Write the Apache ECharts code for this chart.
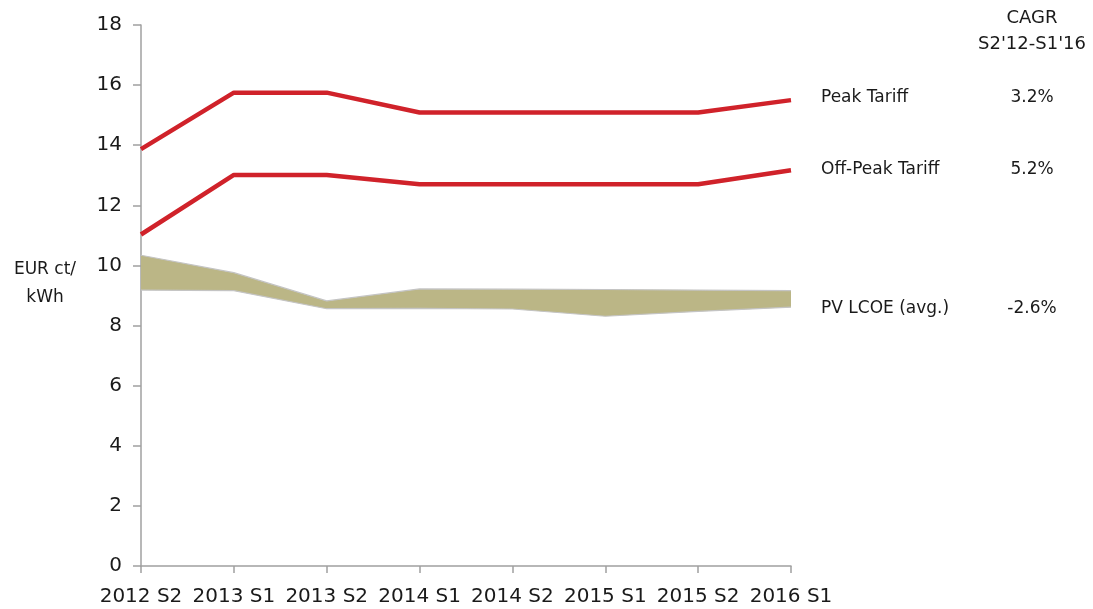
<!DOCTYPE html>
<html>
<head>
<meta charset="utf-8">
<style>
  html, body { margin: 0; padding: 0; background: #fff; }
  #chart { width: 1093px; height: 609px; }
</style>
<script src="https://cdn.jsdelivr.net/npm/echarts@6/dist/echarts.min.js"></script>
</head>
<body>
<div id="chart"></div>
<script>
// Half-year periods
const periods = ['2012 S2', '2013 S1', '2013 S2', '2014 S1', '2014 S2', '2015 S1', '2015 S2', '2016 S1'];

// Grid tariffs, EUR ct/kWh
const peakTariff    = [13.87, 15.75, 15.75, 15.09, 15.09, 15.09, 15.09, 15.5];
const offPeakTariff = [11.03, 13.01, 13.01, 12.7, 12.7, 12.7, 12.7, 13.17];

// PV levelised cost of electricity range, EUR ct/kWh
const lcoeLow  = [9.18, 9.16, 8.56, 8.57, 8.55, 8.31, 8.47, 8.61];
const lcoeHigh = [10.34, 9.76, 8.82, 9.22, 9.21, 9.2, 9.18, 9.16];

const yTicks = { min: 0, max: 18, interval: 2 };

// Right-hand annotations: series name and growth rate
const seriesNames = ['Peak Tariff', 'Off-Peak Tariff', 'PV LCOE (avg.)'];
const cagrValues  = ['3.2%', '5.2%', '-2.6%'];
const cagrHeader  = ['CAGR', "S2'12-S1'16"];

const lcoeSpan = lcoeHigh.map((v, i) => +(v - lcoeLow[i]).toFixed(3));

const FONT = '"DejaVu Sans", sans-serif';
const TXT = '#1a1a1a';
const AXIS = '#a0a0a0';
const RED = '#d0222a';

const chart = echarts.init(document.getElementById('chart'));

const labelRows = [98, 170, 309];
const graphics = [];
seriesNames.forEach((n, i) => {
  graphics.push({
    type: 'text', x: 821, y: labelRows[i],
    style: { text: n, font: '17px ' + FONT, fill: TXT, align: 'left', verticalAlign: 'middle' }
  });
  graphics.push({
    type: 'text', x: 1032, y: labelRows[i],
    style: { text: cagrValues[i], font: '17px ' + FONT, fill: TXT, align: 'center', verticalAlign: 'middle' }
  });
});
cagrHeader.forEach((t, i) => {
  graphics.push({
    type: 'text', x: 1032, y: 18 + i * 26,
    style: { text: t, font: '18px ' + FONT, fill: TXT, align: 'center', verticalAlign: 'middle' }
  });
});
['EUR ct/', 'kWh'].forEach((t, i) => {
  graphics.push({
    type: 'text', x: 45, y: 270 + i * 28,
    style: { text: t, font: '17px ' + FONT, fill: TXT, align: 'center', verticalAlign: 'middle' }
  });
});

chart.setOption({
  animation: false,
  grid: { left: 141, right: 302, top: 25, bottom: 43 },
  xAxis: {
    type: 'category',
    data: periods,
    boundaryGap: false,
    axisLine: { lineStyle: { color: AXIS, width: 1.5 } },
    axisTick: { show: true, length: 7, interval: 0, lineStyle: { color: AXIS, width: 1.5 } },
    axisLabel: { color: TXT, fontFamily: FONT, fontSize: 20, margin: 21, interval: 0 },
    splitLine: { show: false }
  },
  yAxis: {
    type: 'value',
    min: yTicks.min, max: yTicks.max, interval: yTicks.interval,
    axisLine: { show: true, lineStyle: { color: AXIS, width: 1.5 } },
    axisTick: { show: true, length: 8, lineStyle: { color: AXIS, width: 1.5 } },
    axisLabel: { color: TXT, fontFamily: FONT, fontSize: 20, margin: 19 },
    splitLine: { show: false }
  },
  graphic: graphics,
  series: [
    {
      name: 'LCOE low', type: 'line', data: lcoeLow, stack: 'lcoe',
      symbol: 'none', lineStyle: { color: '#c4c4c4', width: 1.2 },
      z: 2
    },
    {
      name: 'PV LCOE (avg.)', type: 'line', data: lcoeSpan, stack: 'lcoe',
      symbol: 'none', lineStyle: { color: '#c4c4c4', width: 1.2 },
      areaStyle: { color: '#bbb686', opacity: 1 },
      z: 2
    },
    {
      name: 'Off-Peak Tariff', type: 'line', data: offPeakTariff,
      symbol: 'none', lineStyle: { color: RED, width: 4.5 }, z: 3
    },
    {
      name: 'Peak Tariff', type: 'line', data: peakTariff,
      symbol: 'none', lineStyle: { color: RED, width: 4.5 }, z: 3
    }
  ]
});
</script>
</body>
</html>
